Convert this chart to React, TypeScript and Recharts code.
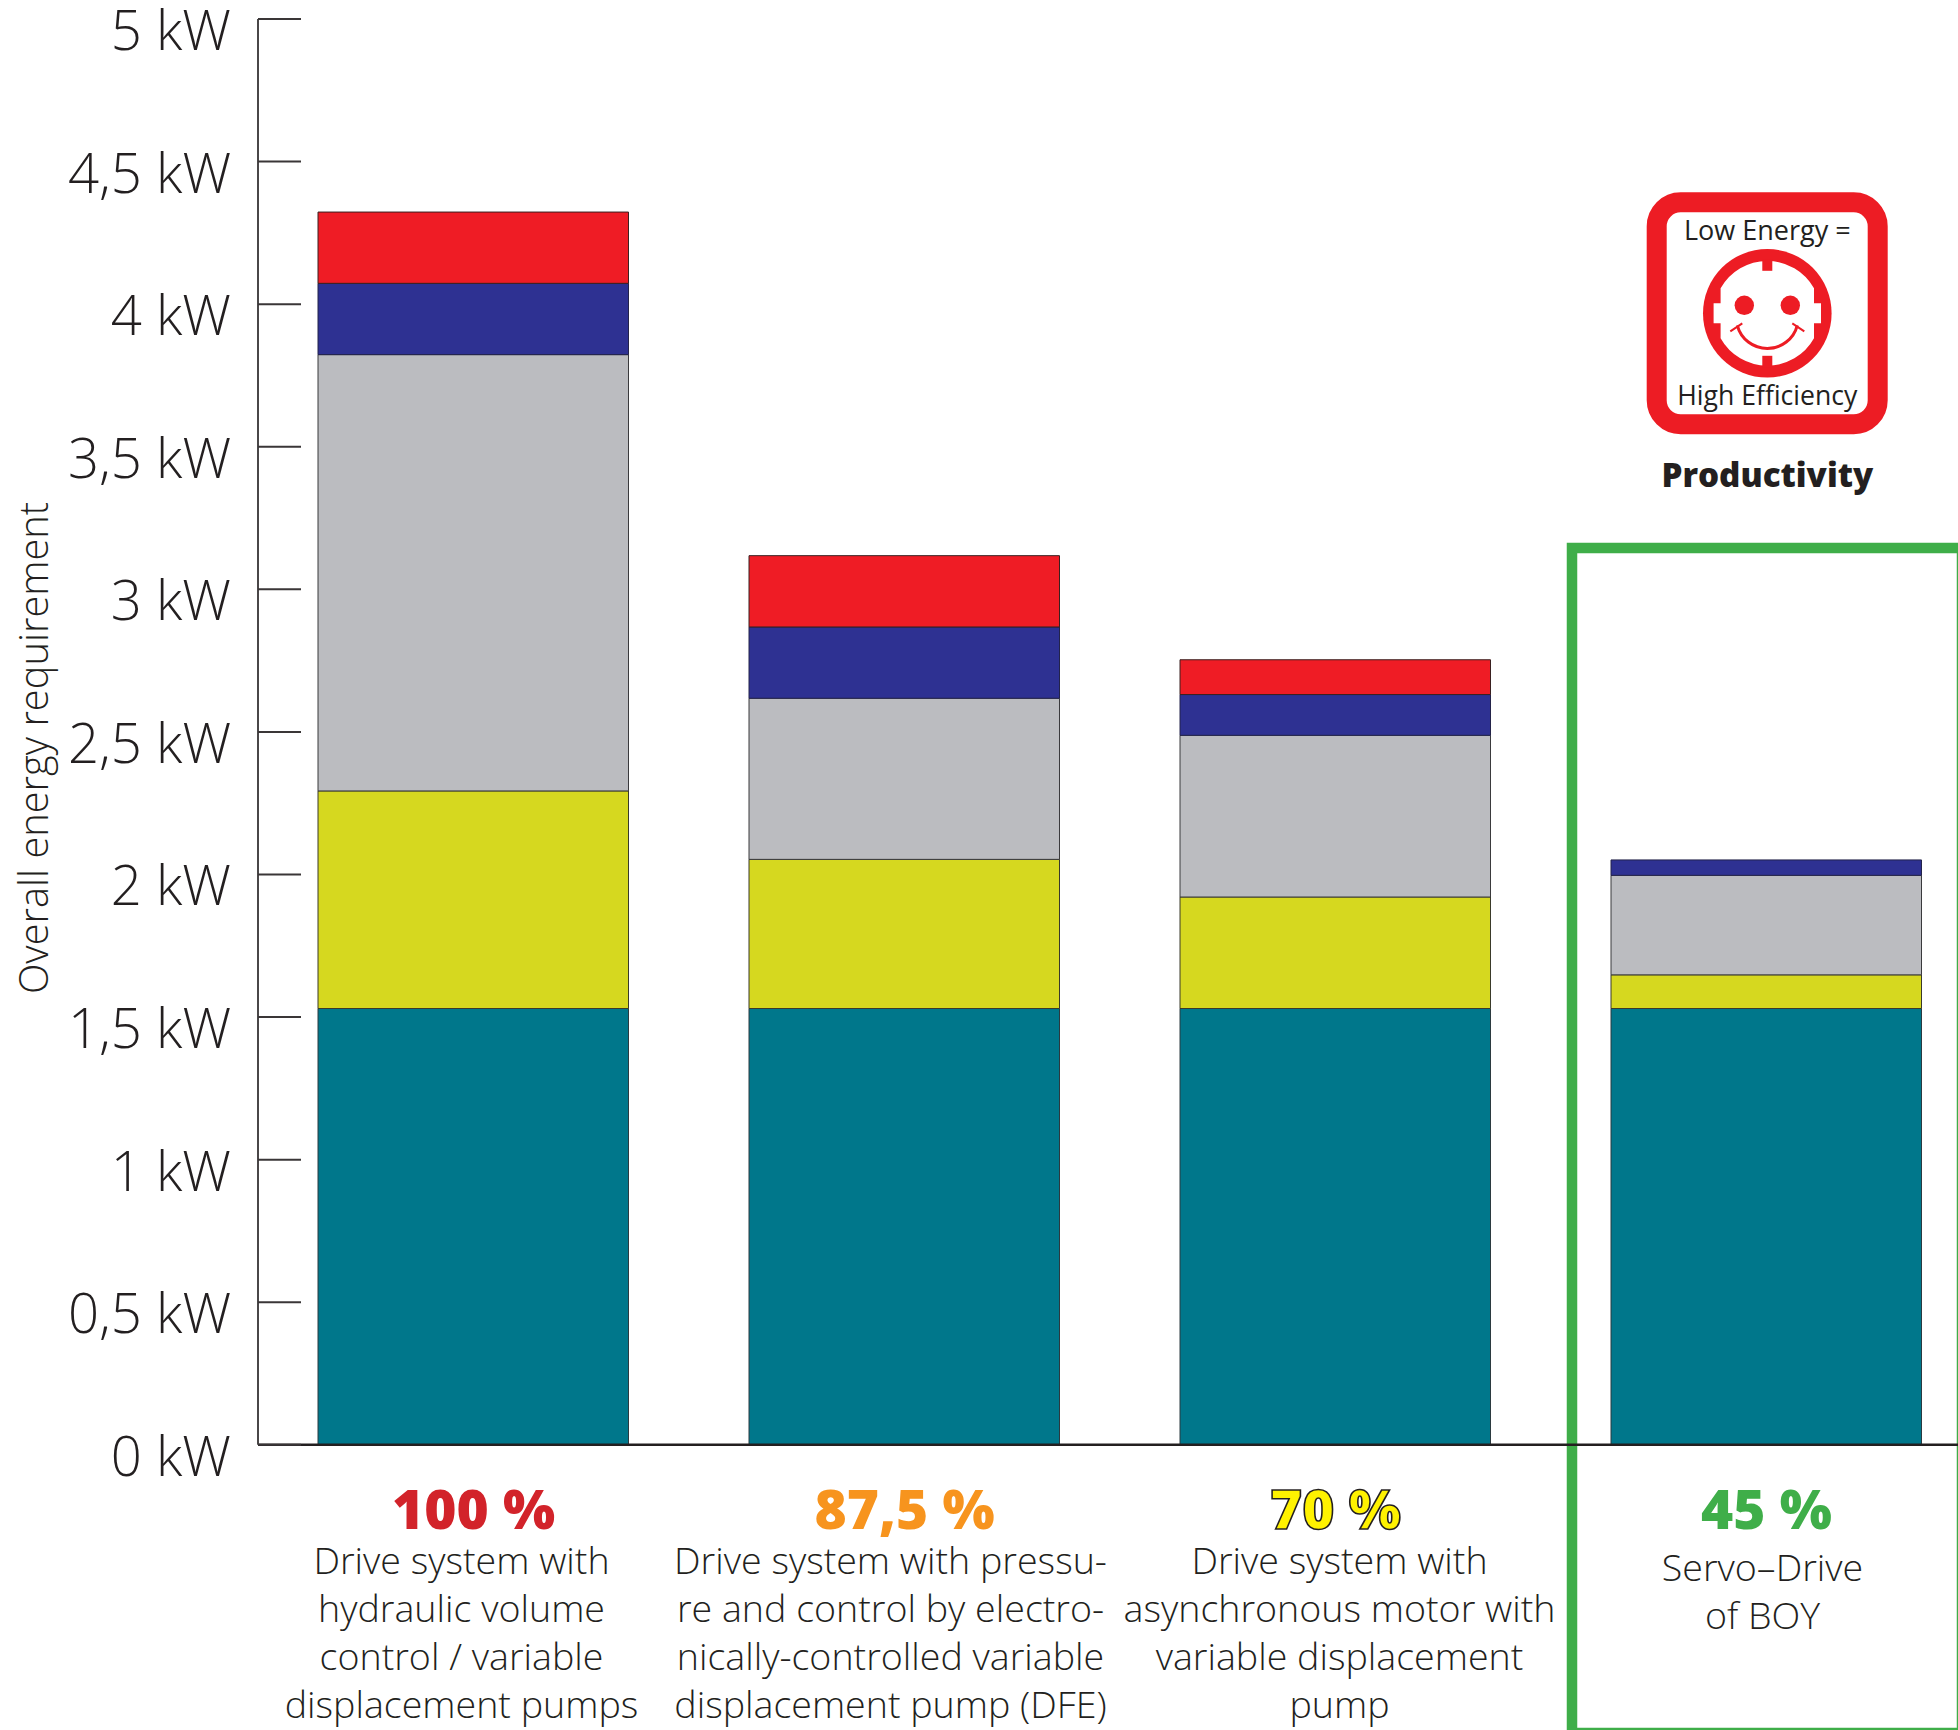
import { BarChart, Bar, XAxis, YAxis } from 'recharts'

const FONT = '"Open Sans", sans-serif'
const INK = '#231f20'
const GREEN = '#3fae49'

const percents = ['100 %', '87,5 %', '70 %', '45 %']
const captions = [
  ['Drive system with', 'hydraulic volume', 'control / variable', 'displacement pumps'],
  ['Drive system with pressu-', 're and control by electro-', 'nically-controlled variable', 'displacement pump (DFE)'],
  ['Drive system with', 'asynchronous motor with', 'variable displacement', 'pump'],
  ['Servo–Drive', 'of BOY'],
]
const teal = [1.53, 1.53, 1.53, 1.53]
const yellow = [0.763, 0.523, 0.391, 0.118]
const grey = [1.53, 0.565, 0.567, 0.349]
const blue = [0.25, 0.25, 0.143, 0.054]
const red = [0.25, 0.25, 0.122, null]
const yTicks = [0, 0.5, 1, 1.5, 2, 2.5, 3, 3.5, 4, 4.5, 5]

const percentColors = ['#d2232a', '#f7941e', '#fff200', GREEN]
const captionShift = [-12, -14, 4, -4]
const captionStart = [47, 47, 47, 54]

const data = percents.map((name, i) => ({
  name,
  teal: teal[i],
  yellow: yellow[i],
  grey: grey[i],
  blue: blue[i],
  red: red[i],
}))

const kw = (v: number) => `${String(v).replace('.', ',')} kW`

function YTick({ x, y, payload }: any) {
  return (
    <g>
      <line x1={x} x2={x + 43} y1={y} y2={y} stroke="#3a3637" strokeWidth={2} />
      <text x={x - 27} y={y + 31} textAnchor="end" fontFamily={FONT} fontWeight={300} fontSize={54.5} fill={INK}>
        {kw(payload.value)}
      </text>
    </g>
  )
}

function XTick({ x, y, index }: any) {
  const lines = captions[index]
  const isYellow = index === 2
  return (
    <g>
      <text
        x={x}
        y={y + 84}
        textAnchor="middle"
        fontFamily={FONT}
        fontWeight={800}
        fontSize={55}
        fill={percentColors[index]}
        stroke={isYellow ? INK : 'none'}
        strokeWidth={isYellow ? 1.6 : 0}
      >
        {percents[index]}
      </text>
      {lines.map((line, i) => (
        <text
          key={line}
          x={x + captionShift[index]}
          y={y + 82 + captionStart[index] + i * 48}
          textAnchor="middle"
          fontFamily={FONT}
          fontWeight={300}
          fontSize={37.6}
          fill={INK}
        >
          {line}
        </text>
      ))}
    </g>
  )
}

// badge top right, drawn around its centre
function Badge() {
  const cx = 1767.3
  const cy = 313.3
  const red = '#ed1c24'
  return (
    <g>
      <rect x={1656.7} y={202.3} width={221} height={222} rx={24} fill="#fff" stroke={red} strokeWidth={20} />
      <text x={cx} y={240} textAnchor="middle" fontFamily={FONT} fontSize={27} fill={INK}>Low Energy =</text>
      <text x={cx} y={405} textAnchor="middle" fontFamily={FONT} fontSize={26.6} fill={INK}>High Efficiency</text>
      <text x={cx} y={487} textAnchor="middle" fontFamily={FONT} fontWeight={800} fontSize={33.2} fill={INK}>Productivity</text>
      <g transform={`translate(${cx} ${cy})`}>
        <circle r={64.3} fill={red} />
        <path
          d="M -46.7 -25 A 53.5 53.5 0 0 1 46.7 -25 L 46.7 -10 L 53.7 -10 L 53.7 10 L 46.7 10 L 46.7 25 A 53.5 53.5 0 0 1 -46.7 25 L -46.7 10 L -53.7 10 L -53.7 -10 L -46.7 -10 Z"
          fill="#fff"
        />
        <rect x={-5} y={-54} width={10} height={11.5} fill={red} />
        <rect x={-5} y={42.5} width={10} height={11.5} fill={red} />
        <circle cx={-23} cy={-8} r={9.7} fill={red} />
        <circle cx={23} cy={-8} r={9.7} fill={red} />
        <path d="M -30 12 A 31 31 0 0 0 30 12" fill="none" stroke={red} strokeWidth={3} />
        <path d="M -37 18 L -25 10 M 37 18 L 25 10" fill="none" stroke={red} strokeWidth={2} />
      </g>
    </g>
  )
}

export default function App() {
  return (
    <div style={{ position: 'absolute', left: 0, top: 0, width: 1958, height: 1730, overflow: 'hidden', background: '#fff' }}>
      <BarChart
        width={2000}
        height={1745}
        data={data}
        barSize={310.5}
        margin={{ top: 19, right: 18, left: 0, bottom: 0 }}
      >
        <XAxis
          dataKey="name"
          height={300.2}
          interval={0}
          tickLine={false}
          tickSize={0}
          tickMargin={0}
          tick={<XTick />}
          axisLine={{ stroke: INK, strokeWidth: 2.5 }}
        />
        <YAxis
          width={258}
          domain={[0, 5]}
          ticks={yTicks}
          tickLine={false}
          tickSize={0}
          tickMargin={0}
          tick={<YTick />}
          axisLine={{ stroke: '#4a4748', strokeWidth: 2 }}
        />
        <Bar dataKey="teal" stackId="a" fill="#00778b" stroke="#2b3a40" strokeWidth={1} isAnimationActive={false} />
        <Bar dataKey="yellow" stackId="a" fill="#d6d81f" stroke="#3a3a2a" strokeWidth={1} isAnimationActive={false} />
        <Bar dataKey="grey" stackId="a" fill="#bbbcc0" stroke="#3a3a3d" strokeWidth={1} isAnimationActive={false} />
        <Bar dataKey="blue" stackId="a" fill="#2e3192" stroke="#23234a" strokeWidth={1} isAnimationActive={false} />
        <Bar dataKey="red" stackId="a" fill="#ef1c25" stroke="#3a2020" strokeWidth={1} isAnimationActive={false} />
        <text
          transform="translate(48 748) rotate(-90)"
          textAnchor="middle"
          fontFamily={FONT}
          fontWeight={300}
          fontSize={39.8}
          fill={INK}
        >
          Overall energy requirement
        </text>
        <rect x={1572} y={548} width={390} height={1185} fill="none" stroke={GREEN} strokeWidth={10.5} />
        <Badge />
      </BarChart>
    </div>
  )
}
